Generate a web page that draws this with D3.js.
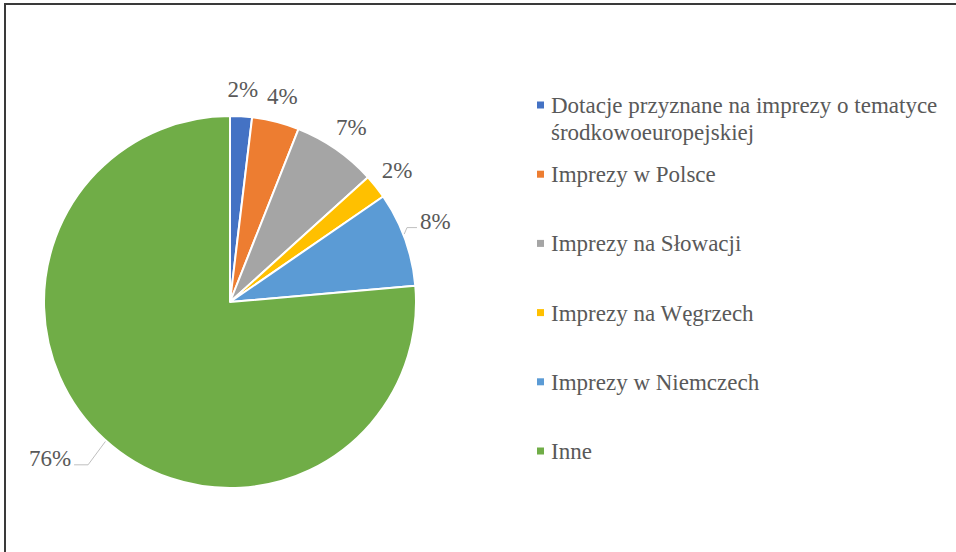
<!DOCTYPE html>
<html>
<head>
<meta charset="utf-8">
<script src="https://cdn.jsdelivr.net/npm/d3@7"></script>
<style>
  html, body { margin: 0; padding: 0; background: #fff; }
  svg { display: block; }
  svg text { font-family: "Liberation Serif", "DejaVu Serif", serif; }
</style>
</head>
<body>
<div id="chart"></div>
<script>
// Pie chart data (share of total, %)
const categories = [
  "Dotacje przyznane na imprezy o tematyce środkowoeuropejskiej",
  "Imprezy w Polsce",
  "Imprezy na Słowacji",
  "Imprezy na Węgrzech",
  "Imprezy w Niemczech",
  "Inne"
];
const legendLines = [
  ["Dotacje przyznane na imprezy o tematyce", "środkowoeuropejskiej"],
  ["Imprezy w Polsce"],
  ["Imprezy na Słowacji"],
  ["Imprezy na Węgrzech"],
  ["Imprezy w Niemczech"],
  ["Inne"]
];
const values = [1.9, 4.1, 7.3, 2.1, 8.2, 76.4];
const colors = ["#4472C4", "#ED7D31", "#A5A5A5", "#FFC000", "#5B9BD5", "#70AD47"];

(function() {
  const W = 956, H = 552;
  const cx = 230, cy = 302, radius = 186;
  const textColor = "#595959";

  const svg = d3.select("#chart").append("svg")
    .attr("width", W).attr("height", H);

  // frame (only top & left edges are visible in the crop)
  svg.append("rect")
    .attr("x", 5).attr("y", 4).attr("width", W + 10).attr("height", H + 10)
    .attr("fill", "#fff").attr("stroke", "#3a3a3a").attr("stroke-width", 2);

  const data = categories.map((c, i) => ({ name: c, value: values[i], color: colors[i] }));
  const total = d3.sum(values);

  const pie = d3.pie().sort(null).value(d => d.value);
  const arcs = pie(data);
  const arc = d3.arc().innerRadius(0).outerRadius(radius);

  const g = svg.append("g").attr("transform", `translate(${cx},${cy})`);

  g.selectAll("path.slice").data(arcs).enter().append("path")
    .attr("class", "slice")
    .attr("d", arc)
    .attr("fill", d => d.data.color)
    .attr("stroke", "#fff").attr("stroke-width", 2).attr("stroke-linejoin", "round");

  // point at radius r along the slice's mid angle (+ optional angle shift in degrees)
  function polar(d, r, shift) {
    const a = (d.startAngle + d.endAngle) / 2 + (shift || 0) * Math.PI / 180;
    return [r * Math.sin(a), -r * Math.cos(a)];
  }

  const pct = d => Math.round(d.data.value / total * 100) + "%";

  // labels: plain ones sit outside the rim, the last two use leader lines
  const leader = {
    4: { r: 192, shift: -3, len: 10, side: 1 },
    5: { r: 216, shift: -1.4, len: 14, side: -1 }
  };

  arcs.forEach((d, i) => {
    const txt = g.append("text")
      .attr("font-family", "Liberation Serif, DejaVu Serif, serif")
      .style("font-size", "23px")
      .attr("fill", textColor).text(pct(d));
    if (leader[i]) {
      const L = leader[i];
      const [ex, ey] = polar(d, radius + 1, L.shift / 2);
      const [bx, by] = polar(d, L.r, L.shift);
      const hx = bx + L.side * L.len;
      g.append("polyline")
        .attr("points", [[ex, ey], [bx, by], [hx, by]].map(p => p.join(",")).join(" "))
        .attr("fill", "none").attr("stroke", "#bfbfbf").attr("stroke-width", 1);
      txt.attr("x", hx + L.side * 3).attr("y", by).attr("dy", "0.05em")
        .attr("text-anchor", L.side > 0 ? "start" : "end");
    } else {
      const [lx, ly] = polar(d, 213);
      txt.attr("x", lx).attr("y", ly).attr("dy", "0.35em").attr("text-anchor", "middle");
    }
  });

  // legend
  const ly = d3.scalePoint().domain(categories).range([105, 451]);
  const legend = svg.append("g");
  data.forEach((d, i) => {
    const y = ly(d.name);
    legend.append("rect")
      .attr("x", 537).attr("y", y - 3.5).attr("width", 7).attr("height", 7)
      .attr("fill", d.color);
    const t = legend.append("text")
      .attr("x", 551).attr("y", y)
      .attr("font-family", "Liberation Serif, DejaVu Serif, serif")
      .style("font-size", "23px")
      .attr("fill", textColor);
    legendLines[i].forEach((line, k) => {
      t.append("tspan").attr("x", 551).attr("dy", k === 0 ? "0.35em" : "27px").text(line);
    });
  });
})();
</script>
</body>
</html>
